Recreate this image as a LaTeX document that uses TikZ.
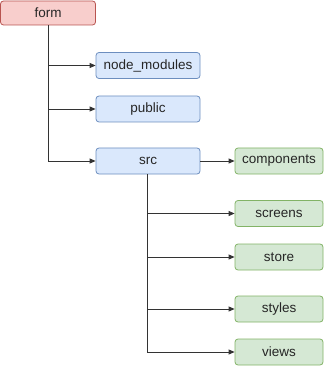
\documentclass[tikz,border=0pt]{standalone}
\usepackage{fontspec}
\setmainfont{Liberation Sans}
\usetikzlibrary{arrows.meta}

\definecolor{rootfill}{HTML}{F8CECC}
\definecolor{rootline}{HTML}{B85450}
\definecolor{dirfill}{HTML}{DAE8FC}
\definecolor{dirline}{HTML}{6C8EBF}
\definecolor{subfill}{HTML}{D5E8D4}
\definecolor{subline}{HTML}{82B366}
\definecolor{wire}{HTML}{333333}

\tikzset{
  box/.style={rectangle, rounded corners=3pt, line width=0.8pt, minimum height=26pt,
    font=\fontsize{13.5}{16}\selectfont, text=black!85, inner sep=0pt},
  rootbox/.style={box, fill=rootfill, draw=rootline, minimum width=95pt, minimum height=24pt},
  dirbox/.style={box, fill=dirfill, draw=dirline, minimum width=104pt},
  subbox/.style={box, fill=subfill, draw=subline, minimum width=88pt},
  link/.style={draw=wire, line width=0.8pt, -{Triangle[length=6pt,width=5pt]}}
}

\begin{document}
\begin{tikzpicture}[x=1pt,y=-1pt]
\useasboundingbox (0,0) rectangle (327,366);
% top level
\node[rootbox] (form) at (48,13) {form};
\node[dirbox] (nodemods) at (148,65.5) {node\_modules};
\node[dirbox] (public) at (148,109) {public};
\node[dirbox] (src) at (148,161) {src};
% inside src
\node[subbox] (components) at (279,161) {components};
\node[subbox] (screens) at (279,213.5) {screens};
\node[subbox] (store) at (279,257) {store};
\node[subbox] (styles) at (279,309) {styles};
\node[subbox] (views) at (279,352) {views};
% tree lines
\draw[link] (form.south) |- (nodemods.west);
\draw[link] (form.south) |- (public.west);
\draw[link] (form.south) |- (src.west);
\draw[link] (src.east) -- (components.west);
\draw[link] ([xshift=-1pt]src.south) |- (screens.west);
\draw[link] ([xshift=-1pt]src.south) |- (store.west);
\draw[link] ([xshift=-1pt]src.south) |- (styles.west);
\draw[link] ([xshift=-1pt]src.south) |- (views.west);
\end{tikzpicture}
\end{document}
